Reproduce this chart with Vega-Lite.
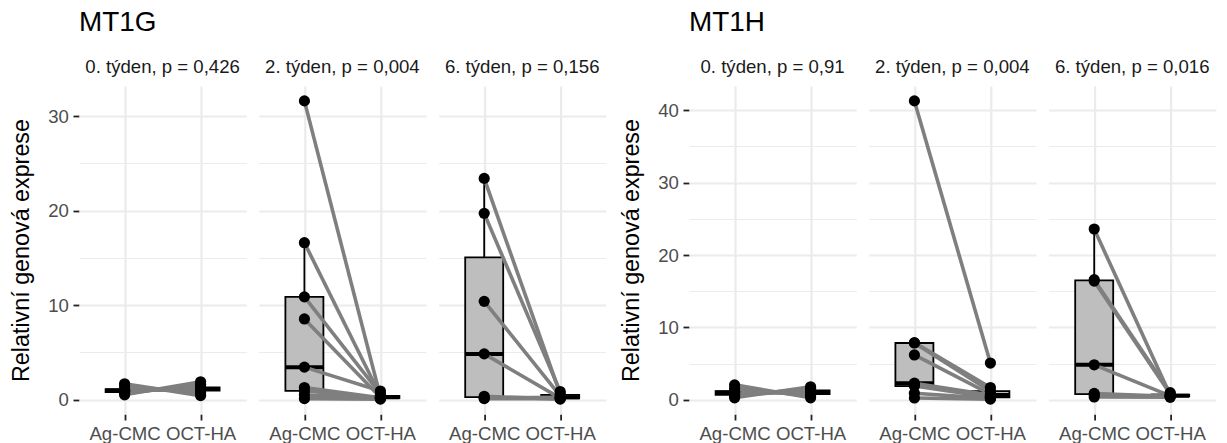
{
  "$schema": "https://vega.github.io/schema/vega-lite/v6.json",
  "padding": {"left": 9, "top": 9, "right": 5, "bottom": 0},
  "config": {
    "font": "Liberation Sans",
    "view": {"stroke": null},
    "title": {"font": "Liberation Sans"}
  },
  "datasets": {
    "mt1g": [
      {"panel": "0. týden, p = 0,426", "trt": "Ag-CMC", "id": 1, "value": 0.5},
      {"panel": "0. týden, p = 0,426", "trt": "OCT-HA", "id": 1, "value": 1.88},
      {"panel": "0. týden, p = 0,426", "trt": "Ag-CMC", "id": 2, "value": 0.65},
      {"panel": "0. týden, p = 0,426", "trt": "OCT-HA", "id": 2, "value": 1.6},
      {"panel": "0. týden, p = 0,426", "trt": "Ag-CMC", "id": 3, "value": 0.8},
      {"panel": "0. týden, p = 0,426", "trt": "OCT-HA", "id": 3, "value": 1.3},
      {"panel": "0. týden, p = 0,426", "trt": "Ag-CMC", "id": 4, "value": 0.88},
      {"panel": "0. týden, p = 0,426", "trt": "OCT-HA", "id": 4, "value": 1.2},
      {"panel": "0. týden, p = 0,426", "trt": "Ag-CMC", "id": 5, "value": 0.95},
      {"panel": "0. týden, p = 0,426", "trt": "OCT-HA", "id": 5, "value": 1.12},
      {"panel": "0. týden, p = 0,426", "trt": "Ag-CMC", "id": 6, "value": 1.02},
      {"panel": "0. týden, p = 0,426", "trt": "OCT-HA", "id": 6, "value": 1.05},
      {"panel": "0. týden, p = 0,426", "trt": "Ag-CMC", "id": 7, "value": 1.1},
      {"panel": "0. týden, p = 0,426", "trt": "OCT-HA", "id": 7, "value": 0.95},
      {"panel": "0. týden, p = 0,426", "trt": "Ag-CMC", "id": 8, "value": 1.45},
      {"panel": "0. týden, p = 0,426", "trt": "OCT-HA", "id": 8, "value": 0.7},
      {"panel": "0. týden, p = 0,426", "trt": "Ag-CMC", "id": 9, "value": 1.67},
      {"panel": "0. týden, p = 0,426", "trt": "OCT-HA", "id": 9, "value": 0.42},
      {"panel": "2. týden, p = 0,004", "trt": "Ag-CMC", "id": 11, "value": 31.6},
      {"panel": "2. týden, p = 0,004", "trt": "OCT-HA", "id": 11, "value": 0.3},
      {"panel": "2. týden, p = 0,004", "trt": "Ag-CMC", "id": 12, "value": 16.6},
      {"panel": "2. týden, p = 0,004", "trt": "OCT-HA", "id": 12, "value": 0.4},
      {"panel": "2. týden, p = 0,004", "trt": "Ag-CMC", "id": 13, "value": 10.87},
      {"panel": "2. týden, p = 0,004", "trt": "OCT-HA", "id": 13, "value": 0.6},
      {"panel": "2. týden, p = 0,004", "trt": "Ag-CMC", "id": 14, "value": 8.53},
      {"panel": "2. týden, p = 0,004", "trt": "OCT-HA", "id": 14, "value": 0.25},
      {"panel": "2. týden, p = 0,004", "trt": "Ag-CMC", "id": 15, "value": 3.43},
      {"panel": "2. týden, p = 0,004", "trt": "OCT-HA", "id": 15, "value": 0.9},
      {"panel": "2. týden, p = 0,004", "trt": "Ag-CMC", "id": 16, "value": 1.27},
      {"panel": "2. týden, p = 0,004", "trt": "OCT-HA", "id": 16, "value": 0.2},
      {"panel": "2. týden, p = 0,004", "trt": "Ag-CMC", "id": 17, "value": 0.93},
      {"panel": "2. týden, p = 0,004", "trt": "OCT-HA", "id": 17, "value": 0.15},
      {"panel": "2. týden, p = 0,004", "trt": "Ag-CMC", "id": 18, "value": 0.5},
      {"panel": "2. týden, p = 0,004", "trt": "OCT-HA", "id": 18, "value": 0.1},
      {"panel": "2. týden, p = 0,004", "trt": "Ag-CMC", "id": 19, "value": 0.1},
      {"panel": "2. týden, p = 0,004", "trt": "OCT-HA", "id": 19, "value": 0.05},
      {"panel": "6. týden, p = 0,156", "trt": "Ag-CMC", "id": 21, "value": 23.4},
      {"panel": "6. týden, p = 0,156", "trt": "OCT-HA", "id": 21, "value": 0.6},
      {"panel": "6. týden, p = 0,156", "trt": "Ag-CMC", "id": 22, "value": 19.7},
      {"panel": "6. týden, p = 0,156", "trt": "OCT-HA", "id": 22, "value": 0.85},
      {"panel": "6. týden, p = 0,156", "trt": "Ag-CMC", "id": 23, "value": 10.39},
      {"panel": "6. týden, p = 0,156", "trt": "OCT-HA", "id": 23, "value": 0.4},
      {"panel": "6. týden, p = 0,156", "trt": "Ag-CMC", "id": 24, "value": 4.83},
      {"panel": "6. týden, p = 0,156", "trt": "OCT-HA", "id": 24, "value": 0.15},
      {"panel": "6. týden, p = 0,156", "trt": "Ag-CMC", "id": 25, "value": 0.35},
      {"panel": "6. týden, p = 0,156", "trt": "OCT-HA", "id": 25, "value": 0.05},
      {"panel": "6. týden, p = 0,156", "trt": "Ag-CMC", "id": 26, "value": 0.15},
      {"panel": "6. týden, p = 0,156", "trt": "OCT-HA", "id": 26, "value": 0.25},
      {"panel": "6. týden, p = 0,156", "trt": "Ag-CMC", "id": 27, "value": 0.1},
      {"panel": "6. týden, p = 0,156", "trt": "OCT-HA", "id": 27, "value": 0.1}
    ],
    "mt1h": [
      {"panel": "0. týden, p = 0,91", "trt": "Ag-CMC", "id": 1, "value": 0.28},
      {"panel": "0. týden, p = 0,91", "trt": "OCT-HA", "id": 1, "value": 1.8},
      {"panel": "0. týden, p = 0,91", "trt": "Ag-CMC", "id": 2, "value": 0.5},
      {"panel": "0. týden, p = 0,91", "trt": "OCT-HA", "id": 2, "value": 1.6},
      {"panel": "0. týden, p = 0,91", "trt": "Ag-CMC", "id": 3, "value": 0.7},
      {"panel": "0. týden, p = 0,91", "trt": "OCT-HA", "id": 3, "value": 1.3},
      {"panel": "0. týden, p = 0,91", "trt": "Ag-CMC", "id": 4, "value": 0.85},
      {"panel": "0. týden, p = 0,91", "trt": "OCT-HA", "id": 4, "value": 1.15},
      {"panel": "0. týden, p = 0,91", "trt": "Ag-CMC", "id": 5, "value": 1.0},
      {"panel": "0. týden, p = 0,91", "trt": "OCT-HA", "id": 5, "value": 1.05},
      {"panel": "0. týden, p = 0,91", "trt": "Ag-CMC", "id": 6, "value": 1.1},
      {"panel": "0. týden, p = 0,91", "trt": "OCT-HA", "id": 6, "value": 0.95},
      {"panel": "0. týden, p = 0,91", "trt": "Ag-CMC", "id": 7, "value": 1.2},
      {"panel": "0. týden, p = 0,91", "trt": "OCT-HA", "id": 7, "value": 0.8},
      {"panel": "0. týden, p = 0,91", "trt": "Ag-CMC", "id": 8, "value": 1.6},
      {"panel": "0. týden, p = 0,91", "trt": "OCT-HA", "id": 8, "value": 0.55},
      {"panel": "0. týden, p = 0,91", "trt": "Ag-CMC", "id": 9, "value": 2.07},
      {"panel": "0. týden, p = 0,91", "trt": "OCT-HA", "id": 9, "value": 0.28},
      {"panel": "2. týden, p = 0,004", "trt": "Ag-CMC", "id": 11, "value": 41.3},
      {"panel": "2. týden, p = 0,004", "trt": "OCT-HA", "id": 11, "value": 5.08},
      {"panel": "2. týden, p = 0,004", "trt": "Ag-CMC", "id": 12, "value": 7.9},
      {"panel": "2. týden, p = 0,004", "trt": "OCT-HA", "id": 12, "value": 1.7},
      {"panel": "2. týden, p = 0,004", "trt": "Ag-CMC", "id": 13, "value": 7.85},
      {"panel": "2. týden, p = 0,004", "trt": "OCT-HA", "id": 13, "value": 1.2},
      {"panel": "2. týden, p = 0,004", "trt": "Ag-CMC", "id": 14, "value": 6.2},
      {"panel": "2. týden, p = 0,004", "trt": "OCT-HA", "id": 14, "value": 0.8},
      {"panel": "2. týden, p = 0,004", "trt": "Ag-CMC", "id": 15, "value": 2.3},
      {"panel": "2. týden, p = 0,004", "trt": "OCT-HA", "id": 15, "value": 0.65},
      {"panel": "2. týden, p = 0,004", "trt": "Ag-CMC", "id": 16, "value": 2.1},
      {"panel": "2. týden, p = 0,004", "trt": "OCT-HA", "id": 16, "value": 0.5},
      {"panel": "2. týden, p = 0,004", "trt": "Ag-CMC", "id": 17, "value": 1.9},
      {"panel": "2. týden, p = 0,004", "trt": "OCT-HA", "id": 17, "value": 0.35},
      {"panel": "2. týden, p = 0,004", "trt": "Ag-CMC", "id": 18, "value": 0.9},
      {"panel": "2. týden, p = 0,004", "trt": "OCT-HA", "id": 18, "value": 0.2},
      {"panel": "2. týden, p = 0,004", "trt": "Ag-CMC", "id": 19, "value": 0.25},
      {"panel": "2. týden, p = 0,004", "trt": "OCT-HA", "id": 19, "value": 0.1},
      {"panel": "6. týden, p = 0,016", "trt": "Ag-CMC", "id": 21, "value": 23.6},
      {"panel": "6. týden, p = 0,016", "trt": "OCT-HA", "id": 21, "value": 0.65},
      {"panel": "6. týden, p = 0,016", "trt": "Ag-CMC", "id": 22, "value": 16.6},
      {"panel": "6. týden, p = 0,016", "trt": "OCT-HA", "id": 22, "value": 1.0},
      {"panel": "6. týden, p = 0,016", "trt": "Ag-CMC", "id": 23, "value": 16.4},
      {"panel": "6. týden, p = 0,016", "trt": "OCT-HA", "id": 23, "value": 0.8},
      {"panel": "6. týden, p = 0,016", "trt": "Ag-CMC", "id": 24, "value": 4.84},
      {"panel": "6. týden, p = 0,016", "trt": "OCT-HA", "id": 24, "value": 0.55},
      {"panel": "6. týden, p = 0,016", "trt": "Ag-CMC", "id": 25, "value": 0.88},
      {"panel": "6. týden, p = 0,016", "trt": "OCT-HA", "id": 25, "value": 0.5},
      {"panel": "6. týden, p = 0,016", "trt": "Ag-CMC", "id": 26, "value": 0.7},
      {"panel": "6. týden, p = 0,016", "trt": "OCT-HA", "id": 26, "value": 0.45},
      {"panel": "6. týden, p = 0,016", "trt": "Ag-CMC", "id": 27, "value": 0.4},
      {"panel": "6. týden, p = 0,016", "trt": "OCT-HA", "id": 27, "value": 0.35}
    ]
  },
  "spacing": 13,
  "hconcat": [
    {
      "data": {"name": "mt1g"},
      "title": {"text": "MT1G", "anchor": "start", "frame": "group", "fontSize": 27.9, "fontWeight": "normal", "color": "black", "baseline": "bottom", "offset": -7},
      "facet": {
        "column": {
          "field": "panel", "type": "nominal",
          "sort": ["0. týden, p = 0,426", "2. týden, p = 0,004", "6. týden, p = 0,156"],
          "header": {"title": null, "labelFontSize": 18.6, "labelColor": "#1A1A1A", "labelPadding": 9.3, "labelFont": "Liberation Sans"}
        }
      },
      "spacing": {"column": 11.8},
      "spec": {
        "width": 167.2,
        "height": 328,
        "encoding": {
          "x": {
            "field": "trt", "type": "nominal",
            "scale": {"type": "point", "padding": 0.6},
            "axis": {"title": null, "domain": false, "grid": true, "gridColor": "#EBEBEB", "gridWidth": 2.2, "tickColor": "#222222", "tickWidth": 1.8, "tickSize": 6, "labelPadding": 4.6, "labelFontSize": 18.6, "labelColor": "#4D4D4D", "labelAngle": 0, "labelOverlap": false}
          },
          "y": {
            "field": "value", "type": "quantitative",
            "scale": {"zero": false, "nice": false, "padding": 14.9},
            "axis": {
              "values": [0, 5, 10, 15, 20, 25, 30],
              "labelExpr": "datum.value % 10 === 0 ? datum.label : ''",
              "labelOverlap": false,
              "tickOpacity": {"condition": {"test": "datum.value % 10 === 0", "value": 1}, "value": 0},
              "gridWidth": {"condition": {"test": "datum.value % 10 === 0", "value": 2.2}, "value": 1.2},
              "gridColor": "#EBEBEB", "domain": false, "tickColor": "#222222", "tickWidth": 1.8, "tickSize": 6,
              "labelPadding": 4.6, "labelFontSize": 18.6, "labelColor": "#4D4D4D",
              "title": "Relativní genová exprese", "titleFontSize": 23.3, "titleFontWeight": "normal", "titleColor": "black", "titlePadding": 14
            }
          }
        },
        "layer": [
          {"mark": {"type": "boxplot", "extent": 1.5, "size": 38, "outliers": false, "ticks": false,
            "box": {"fill": "#BEBEBE", "stroke": "black", "strokeWidth": 1.8},
            "median": {"color": "black", "thickness": 4, "opacity": 1},
            "rule": {"stroke": "black", "strokeWidth": 1.8}}},
          {"mark": {"type": "line", "color": "#7F7F7F", "strokeWidth": 3.6}, "encoding": {"detail": {"field": "id", "type": "nominal"}}},
          {"mark": {"type": "point", "filled": true, "color": "black", "size": 125, "opacity": 1}}
        ]
      }
    },
    {
      "data": {"name": "mt1h"},
      "title": {"text": "MT1H", "anchor": "start", "frame": "group", "fontSize": 27.9, "fontWeight": "normal", "color": "black", "baseline": "bottom", "offset": -7},
      "facet": {
        "column": {
          "field": "panel", "type": "nominal",
          "sort": ["0. týden, p = 0,91", "2. týden, p = 0,004", "6. týden, p = 0,016"],
          "header": {"title": null, "labelFontSize": 18.6, "labelColor": "#1A1A1A", "labelPadding": 9.3, "labelFont": "Liberation Sans"}
        }
      },
      "spacing": {"column": 11.8},
      "spec": {
        "width": 167.2,
        "height": 328,
        "encoding": {
          "x": {
            "field": "trt", "type": "nominal",
            "scale": {"type": "point", "padding": 0.6},
            "axis": {"title": null, "domain": false, "grid": true, "gridColor": "#EBEBEB", "gridWidth": 2.2, "tickColor": "#222222", "tickWidth": 1.8, "tickSize": 6, "labelPadding": 4.6, "labelFontSize": 18.6, "labelColor": "#4D4D4D", "labelAngle": 0, "labelOverlap": false}
          },
          "y": {
            "field": "value", "type": "quantitative",
            "scale": {"zero": false, "nice": false, "padding": 14.9},
            "axis": {
              "values": [0, 5, 10, 15, 20, 25, 30, 35, 40],
              "labelExpr": "datum.value % 10 === 0 ? datum.label : ''",
              "labelOverlap": false,
              "tickOpacity": {"condition": {"test": "datum.value % 10 === 0", "value": 1}, "value": 0},
              "gridWidth": {"condition": {"test": "datum.value % 10 === 0", "value": 2.2}, "value": 1.2},
              "gridColor": "#EBEBEB", "domain": false, "tickColor": "#222222", "tickWidth": 1.8, "tickSize": 6,
              "labelPadding": 4.6, "labelFontSize": 18.6, "labelColor": "#4D4D4D",
              "title": "Relativní genová exprese", "titleFontSize": 23.3, "titleFontWeight": "normal", "titleColor": "black", "titlePadding": 14
            }
          }
        },
        "layer": [
          {"mark": {"type": "boxplot", "extent": 1.5, "size": 38, "outliers": false, "ticks": false,
            "box": {"fill": "#BEBEBE", "stroke": "black", "strokeWidth": 1.8},
            "median": {"color": "black", "thickness": 4, "opacity": 1},
            "rule": {"stroke": "black", "strokeWidth": 1.8}}},
          {"mark": {"type": "line", "color": "#7F7F7F", "strokeWidth": 3.6}, "encoding": {"detail": {"field": "id", "type": "nominal"}}},
          {"mark": {"type": "point", "filled": true, "color": "black", "size": 125, "opacity": 1}}
        ]
      }
    }
  ]
}
